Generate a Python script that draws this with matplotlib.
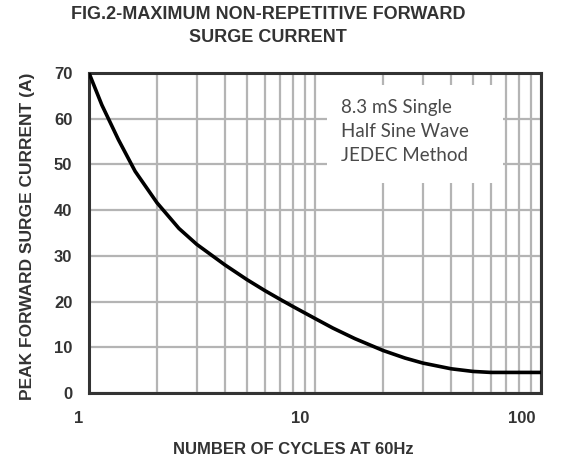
import matplotlib
matplotlib.use("Agg")
import matplotlib.pyplot as plt
from matplotlib.patches import Rectangle
from matplotlib.ticker import FixedLocator, NullFormatter
from matplotlib.transforms import ScaledTranslation

cycles = [1, 1.14, 1.35, 1.6, 2, 2.5, 3, 4, 5, 6, 7, 8, 10, 12, 15,
          20, 25, 30, 40, 50, 60, 70, 100]
current = [70, 63, 55.4, 48.5, 41.6, 36, 32.5, 28, 24.8, 22.4, 20.5, 18.9,
           16.3, 14.2, 11.9, 9.3, 7.65, 6.55, 5.3, 4.72, 4.5, 4.5, 4.5]

x_ticks = [1, 10, 100]
x_ticklabels = ["1", "10", "100"]
y_ticks = [0, 10, 20, 30, 40, 50, 60, 70]
note_lines = ["8.3 mS Single", "Half Sine Wave", "JEDEC Method"]

plt.rcParams["font.family"] = ["Liberation Sans", "DejaVu Sans"]

W, H = 561, 466
L, R, T, B = 89, 541, 73, 393

fig = plt.figure(figsize=(W / 100, H / 100), dpi=100)
ax = fig.add_axes([L / W, 1 - B / H, (R - L) / W, (B - T) / H])

ax.set_xscale("log")
ax.set_xlim(1, 100)
ax.set_ylim(0, 70)

minors = [m * d for d in (1, 10) for m in range(2, 10)]
ax.xaxis.set_major_locator(FixedLocator(x_ticks))
ax.xaxis.set_minor_locator(FixedLocator(minors))
ax.xaxis.set_minor_formatter(NullFormatter())
ax.set_xticklabels(x_ticklabels)
ax.set_yticks(y_ticks)

ax.grid(which="both", axis="both", color="#b4b4b4", linewidth=1.6)
ax.tick_params(which="both", length=0, labelsize=12, colors="#333333")
ax.tick_params(axis="y", pad=12)
ax.tick_params(axis="x", pad=13)
shift = ScaledTranslation(-4 / 72, 0, fig.dpi_scale_trans)
for lbl in ax.get_xticklabels():
    lbl.set_fontweight("bold")
    lbl.set_horizontalalignment("right")
    lbl.set_transform(lbl.get_transform() + shift)
for lbl in ax.get_yticklabels():
    lbl.set_fontweight("bold")

for sp in ax.spines.values():
    sp.set_linewidth(2.2)
    sp.set_color("#333333")

ax.plot(cycles, current, color="black", linewidth=2.6, solid_capstyle="round",
        solid_joinstyle="round", zorder=3)

# white note box that hides the grid
bx0, bx1, by0, by1 = 327, 503, 85, 183
ax.add_patch(Rectangle(((bx0 - L) / (R - L), (B - by1) / (B - T)),
                       (bx1 - bx0) / (R - L), (by1 - by0) / (B - T),
                       transform=ax.transAxes, facecolor="white",
                       edgecolor="none", zorder=2))
ax.text((341 - L) / (R - L), (B - 99) / (B - T), "\n".join(note_lines),
        transform=ax.transAxes, fontsize=13.5, family=["Lato", "DejaVu Sans"],
        color="#4a4a4a", va="top", ha="left", linespacing=1.5, zorder=4)

ax.set_xlabel("NUMBER OF CYCLES AT 60Hz", fontsize=12, fontweight="bold",
              color="#333333", va="center")
ax.xaxis.set_label_coords((293 - L) / (R - L), -(450 - B) / (B - T))
ax.set_ylabel("PEAK FORWARD SURGE CURRENT (A)", fontsize=12.5, fontweight="bold",
              color="#333333", va="center")
ax.yaxis.set_label_coords((28 - L) / (R - L), (B - 236) / (B - T))

fig.text(268 / W, 1 - 6 / H, "FIG.2-MAXIMUM NON-REPETITIVE FORWARD\nSURGE CURRENT",
         fontsize=13, fontweight="bold", ha="center", va="top",
         linespacing=1.5, color="#333333")

fig.savefig("out.png", dpi=100)
